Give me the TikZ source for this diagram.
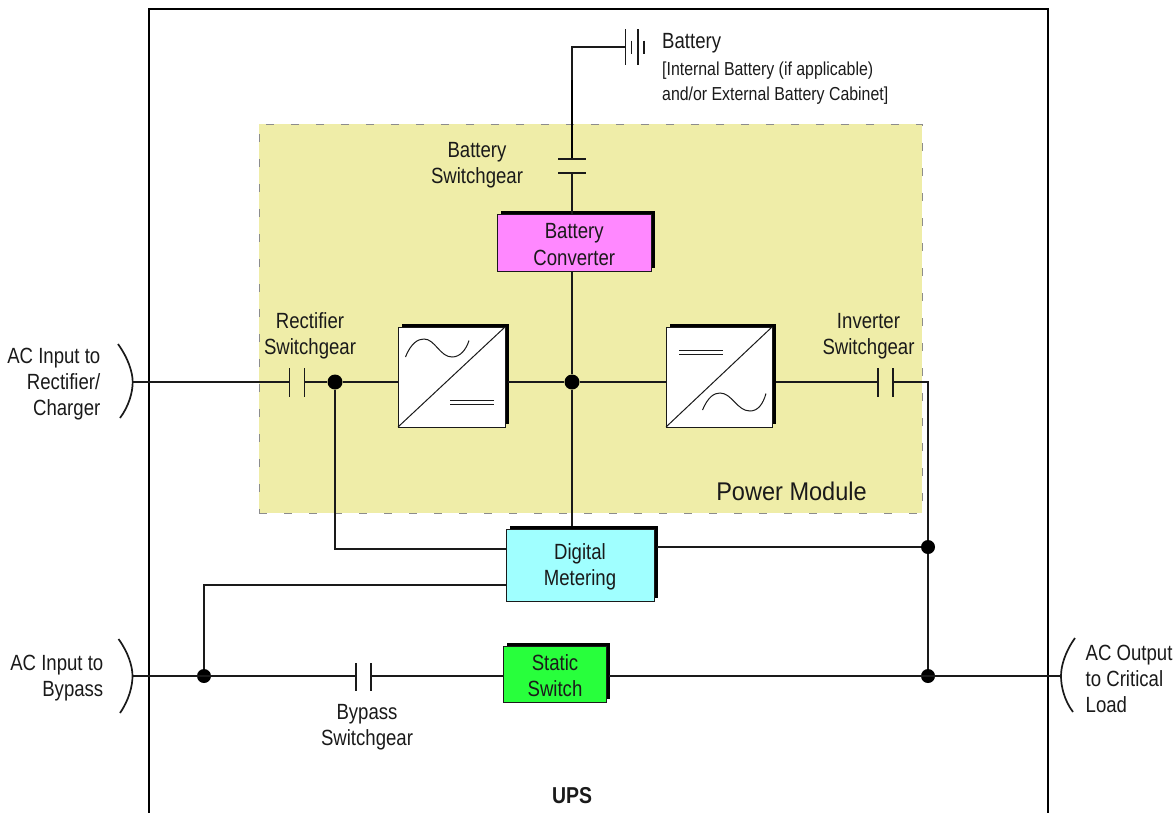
\documentclass[tikz,border=0pt]{standalone}
\usepackage{fontspec}
\setmainfont[FakeStretch=0.845]{Liberation Sans}
\newfontfamily\pmfamily[FakeStretch=0.92]{Liberation Sans}
\usetikzlibrary{shadows}
\definecolor{panel}{HTML}{EFEDA8}
\definecolor{panelEdge}{HTML}{8C8C8C}
\definecolor{convMag}{HTML}{FF88FF}
\definecolor{metCyan}{HTML}{A0FFFF}
\definecolor{swGreen}{HTML}{28FF3C}
\definecolor{ink}{HTML}{1A1A1A}
\newcommand{\lblfont}{\fontsize{22}{26.3}\selectfont}
\newcommand{\smallfont}{\fontsize{18.8}{25}\selectfont}
\newcommand{\boxpad}{\rule{0pt}{19pt}}
\tikzset{
  wire/.style={draw=ink,line width=1.3pt},
  wirethick/.style={draw=black,line width=2.2pt},
  plate/.style={draw=ink,line width=1.2pt},
  dot/.style={circle,fill=black,draw=none,inner sep=0pt,minimum size=15pt},
  blockbox/.style={draw=ink,line width=1pt,anchor=north west,inner sep=0pt,outer sep=0pt,align=center,font=\lblfont,text=ink,
     general shadow={fill=black,shadow xshift=3.5pt,shadow yshift=3pt}},
  labelnode/.style={inner sep=0pt,align=center,font=\lblfont,text=ink},
  labelright/.style={inner sep=0pt,align=right,anchor=east,font=\lblfont,text=ink},
  labelleft/.style={inner sep=0pt,align=left,anchor=west,font=\lblfont,text=ink},
  bracket/.style={draw=ink,line width=1.7pt},
  symline/.style={draw=ink,line width=1pt}
}
\begin{document}
\begin{tikzpicture}[x=1pt,y=-1pt]
\useasboundingbox (0,0) rectangle (1173,812);
% frame (open at the foot of the page)
\node[draw=black,line width=2pt,anchor=north west,inner sep=0pt,outer sep=0pt,minimum width=899pt,minimum height=820pt] (ups) at (148.5,9) {};
% power module
\node[fill=panel,draw=panelEdge,line width=1pt,dash pattern=on 8pt off 17pt,anchor=north west,inner sep=0pt,outer sep=0pt,minimum width=663pt,minimum height=389pt] (pm) at (259,124) {};

% junctions and free points
\coordinate (inR) at (133,382);
\coordinate (inB) at (133,676);
\coordinate (outL) at (1061,676);
\coordinate (batCorner) at (572,47);
\coordinate (batTap) at (572,80);
\coordinate (batLead) at (625.5,47);
\coordinate (invCorner) at (928,382);
\coordinate (rfCorner) at (335,549);
\coordinate (byCorner) at (205,585);

% switch plates
\coordinate (bsA1) at (558,159); \coordinate (bsA2) at (586,159);
\coordinate (bsB1) at (558,173); \coordinate (bsB2) at (586,173);
\coordinate (bsA) at (572,159); \coordinate (bsB) at (572,173);
\coordinate (rsA) at (289.5,382); \coordinate (rsB) at (304.5,382);
\coordinate (isA) at (878,382); \coordinate (isB) at (893,382);
\coordinate (ysA) at (356,676); \coordinate (ysB) at (371,676);
\coordinate (convS) at (572,271);
\coordinate (meterN) at (572,526);
\coordinate (rectE) at (508,382);
\coordinate (invE) at (776,382);
\coordinate (meterE) at (657,547);
\coordinate (staticE) at (609,676);

% blocks
\node[blockbox,fill=convMag,minimum width=154.5pt,minimum height=57pt] (conv) at (497,214) {\boxpad Battery\\Converter};
\node[blockbox,fill=white,minimum width=107pt,minimum height=100pt] (rect) at (398,327) {};
\node[blockbox,fill=white,minimum width=106pt,minimum height=100pt] (inv) at (666,327) {};
\node[blockbox,fill=metCyan,minimum width=148pt,minimum height=72pt] (meter) at (506,529) {\boxpad Digital\\Metering};
\node[blockbox,fill=swGreen,minimum width=103pt,minimum height=56pt] (static) at (503.5,646) {\boxpad Static\\Switch};

% dots
\node[dot] (d1) at (335,382) {};
\node[dot] (d2) at (572,382) {};
\node[dot,minimum size=14pt] (d3) at (928,547) {};
\node[dot,minimum size=14pt] (d4) at (928,676) {};
\node[dot,minimum size=14pt] (d5) at (204,676) {};

% connectors
\draw[wire] (batLead) -- (batCorner) -- (batTap);
\draw[wirethick] (batTap) -- (bsA);
\draw[wire] (bsB) -- (bsB |- conv.north);
\draw[wire] (convS) -- (d2);
\draw[wire] (d2) -- (meterN);
\draw[wire] (inR) -- (rsA);
\draw[wire] (rsB) -- (d1);
\draw[wire] (d1) -- (d1 -| rect.west);
\draw[wire] (rectE) -- (d2);
\draw[wire] (d2) -- (d2 -| inv.west);
\draw[wire] (invE) -- (isA);
\draw[wire] (isB) -- (invCorner) -- (d3);
\draw[wire] (d3) -- (d4);
\draw[wire] (d3) -- (meterE);
\draw[wire] (d1) -- (rfCorner) -- (rfCorner -| meter.west);
\draw[wire] (d5) -- (d5 |- byCorner) -- (byCorner -| meter.west);
\draw[wire] (inB) -- (ysA);
\draw[wire] (ysB) -- (ysB -| static.west);
\draw[wire] (staticE) -- (outL);

% switch plates
\draw[plate] (bsA1) -- (bsA2);
\draw[plate] (bsB1) -- (bsB2);
\draw[plate] (289.5,368) -- (289.5,397);
\draw[plate] (304.5,368) -- (304.5,397);
\draw[plate] (878,368) -- (878,397);
\draw[plate] (893,368) -- (893,397);
\draw[plate] (356,663) -- (356,691);
\draw[plate] (371,663) -- (371,691);
% battery symbol
\draw[plate] (625.5,29) -- (625.5,65);
\draw[plate] (631.5,40.5) -- (631.5,54);
\draw[plate] (638,29) -- (638,65);
\draw[plate] (644,40.5) -- (644,54);

% converter symbols
\draw[symline] (rect.south west) -- (rect.north east);
\draw[symline] (inv.south west) -- (inv.north east);
\draw[symline] (405.5,357) .. controls (411,343) and (418,339) .. (424,339)
   .. controls (435,339) and (440,357) .. (452,357)
   .. controls (460,357) and (466,350) .. (469,340.5);
\draw[symline] (702.5,410) .. controls (708,397) and (714,393) .. (720,393)
   .. controls (732,393) and (737,411) .. (750,411)
   .. controls (758,411) and (763,404) .. (766,393.5);
\draw[symline] (450,400) -- (494,400);
\draw[symline] (450,404) -- (494,404);
\draw[symline] (679,350.5) -- (723,350.5);
\draw[symline] (679,354.5) -- (723,354.5);

% brackets
\draw[bracket] (118,344) .. controls (128,358) and (132.7,372) .. (132.7,382) .. controls (132.7,392) and (129,406) .. (120,418);
\draw[bracket] (118.5,639) .. controls (128,652) and (132.5,666) .. (132.5,676) .. controls (132.5,686) and (129,700) .. (120,713);
\draw[bracket] (1075,638) .. controls (1065,652) and (1061,666) .. (1061,676) .. controls (1061,686) and (1064,700) .. (1073,712);

% labels
\node[labelnode] (tBS) at (477,165) {Battery\\Switchgear};
\node[labelnode] (tRS) at (310,336) {Rectifier\\Switchgear};
\node[labelnode] (tIS) at (868.5,336) {Inverter\\Switchgear};
\node[labelnode] (tYS) at (367,727) {Bypass\\Switchgear};
\node[labelright] (tACR) at (100.5,384) {AC Input to\\Rectifier/\\Charger};
\node[labelright] (tACB) at (103.5,678) {AC Input to\\Bypass};
\node[labelleft] (tACO) at (1085.5,679) {AC Output\\to Critical\\Load};
\node[labelleft] (tBat) at (662,43) {Battery};
\node[inner sep=0pt,align=left,anchor=west,font=\smallfont,text=ink] (tBatD) at (662,83) {[Internal Battery (if applicable)\\and/or External Battery Cabinet]};
\node[inner sep=0pt,anchor=east,font=\pmfamily\fontsize{25.6}{30}\selectfont,text=ink] (tPM) at (867,491) {Power Module};
\node[inner sep=0pt,font=\fontsize{23}{27}\bfseries\selectfont,text=ink] (tUPS) at (572,796) {UPS};
\end{tikzpicture}
\end{document}
